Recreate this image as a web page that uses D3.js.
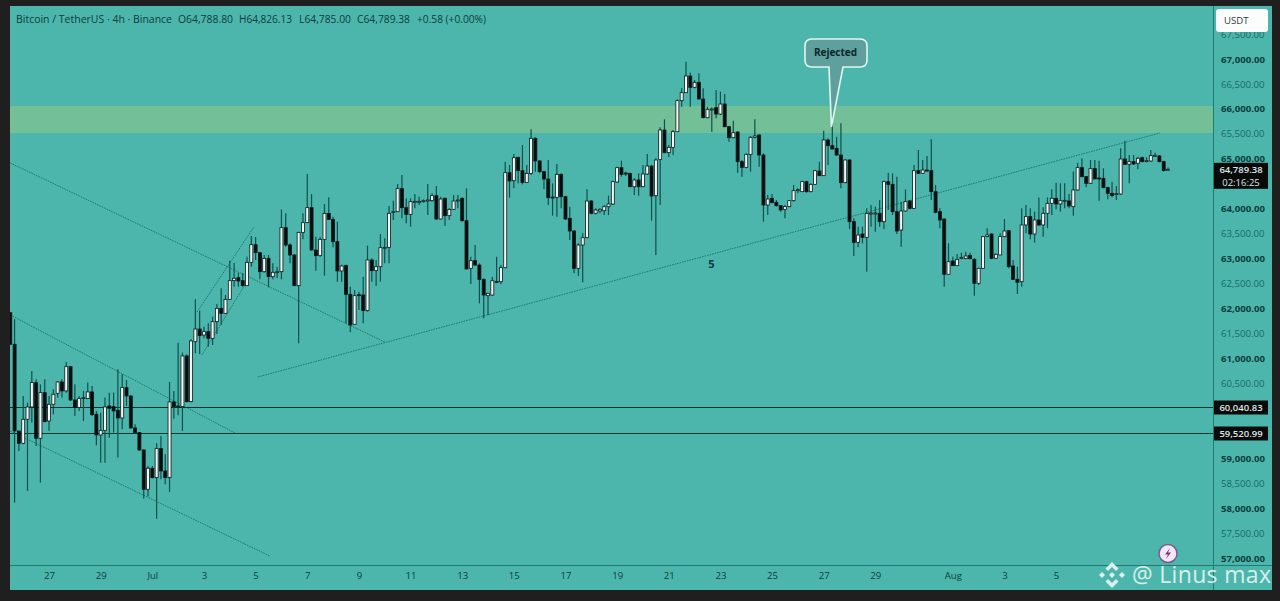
<!DOCTYPE html>
<html>
<head>
<meta charset="utf-8">
<script src="https://cdn.jsdelivr.net/npm/d3@7"></script>
<style>
  html, body { margin: 0; padding: 0; background: #201f1f; overflow: hidden; }
  svg { display: block; }
  text { font-family: "Open Sans", "Noto Sans", sans-serif; }
</style>
</head>
<body>
<script>
// DEFINE VARIABLES
var opens = [
  61917,61283,59546,59299,59780,60027,60515,59399,60314,59746,
  60080,60301,60528,60348,60835,60167,60014,60194,60194,60328,
  59880,59466,59559,60047,60034,59960,59806,60414,60247,59606,
  59513,59165,58377,58798,58611,59192,58744,58611,60127,60047,
  60034,61049,60134,61335,61589,61469,61536,61402,61736,62003,
  61903,62184,62558,62618,62558,62458,62925,63279,63119,62738,
  63005,62638,62725,62738,63620,63273,63072,62458,63526,63720,
  64021,63172,63059,63386,63907,63787,63339,62752,62865,62284,
  61683,62277,62271,61957,62972,62758,62838,63212,63226,63927,
  63941,64402,64021,63887,64141,64141,64154,64161,64161,64261,
  63794,64208,63860,63987,64161,64208,63760,62805,62958,62871,
  62584,62257,62270,62544,62537,62818,64722,64561,65029,64762,
  64528,64708,65410,64956,64742,64595,64234,64227,64688,64241,
  63807,63553,62805,63272,63419,64154,63907,63954,63960,64040,
  64094,64535,64822,64715,64708,64441,64575,64441,64695,64855,
  64261,64989,65577,65123,65229,65543,66165,66325,66659,66432,
  66532,66198,65824,65984,66024,65897,66098,65644,65423,65537,
  64942,64829,65089,65430,65477,65076,64074,64208,64127,64061,
  63987,64041,64161,64368,64341,64542,64341,64488,64755,64662,
  65377,65263,65210,65076,64522,64976,63740,63326,63493,63426,
  63900,63900,63907,63740,64542,64488,63940,63573,63954,64154,
  64007,64762,64709,64775,64762,64341,63940,63793,62685,62952,
  62858,63012,62999,63065,62986,62505,62805,63440,63493,63006,
  63073,63440,63560,62852,62585,62538,63674,63841,63493,63774,
  63674,63908,64108,64208,64095,64155,64155,64041,64375,64823,
  64642,64509,64803,64616,64609,64422,64308,64288,64295,64996,
  64890,64943,64910,65023,64950,64956,65057,65057,64943,64788.8
];
var closes = [
  61283,59546,59299,59780,60027,60515,59399,60314,59733,60080,
  60281,60528,60348,60835,60167,60014,60194,60214,60328,59873,
  59466,59559,60027,60000,59947,59806,60414,60247,59606,59513,
  59165,58377,58798,58611,59192,58744,58611,60127,60034,60034,
  61049,60134,61350,61589,61456,61536,61402,61736,62003,61903,
  62184,62558,62605,62551,62458,62925,63279,63119,62738,63005,
  62638,62725,62738,63620,63273,63072,62458,63526,63720,64021,
  63172,63059,63386,63907,63787,63339,62752,62852,62284,61669,
  62257,62264,61957,62972,62758,62838,63219,63226,63907,63941,
  64402,64021,63887,64141,64148,64148,64161,64174,64261,63794,
  64194,63860,63987,64154,64174,63760,62792,62958,62871,62584,
  62270,62304,62557,62531,62818,64722,64555,65022,64762,64528,
  64708,65410,64956,64742,64595,64221,64221,64688,64241,63793,
  63553,62805,63272,63419,64154,63907,63974,63987,64040,64094,
  64541,64822,64688,64702,64441,64575,64441,64695,64855,64254,
  64976,65577,65123,65229,65543,66165,66325,66659,66432,66532,
  66198,65824,65991,65998,65897,66098,65644,65423,65523,64942,
  64829,65089,65430,65457,65076,64074,64194,64121,64061,63974,
  64041,64161,64361,64381,64542,64341,64488,64762,64662,65377,
  65263,65196,65076,64522,64976,63740,63326,63473,63426,63907,
  63914,63914,63740,64542,64488,63940,63553,63954,64141,64007,
  64762,64709,64775,64762,64341,63927,63773,62685,62938,62858,
  62985,63025,63052,62999,62505,62805,63440,63473,63006,63086,
  63440,63554,62839,62585,62525,63674,63841,63493,63774,63674,
  63908,64108,64208,64095,64161,64168,64055,64375,64823,64642,
  64509,64803,64596,64602,64422,64308,64262,64302,64996,64890,
  64943,64896,65010,64943,64963,65063,65070,64943,64763,64789.38
];
var highs = [
  61917,61784,59546,60247,60114,60748,60581,60481,60581,60247,
  60381,60548,60581,60929,60835,60481,60247,60348,60515,60448,
  59947,59913,60214,60314,60314,60782,60682,60568,60261,59680,
  59526,59179,58845,58845,59299,59446,59078,60528,60348,61316,
  61116,61082,61383,62184,61957,61636,61703,61836,62090,62404,
  62271,62959,62919,62718,62705,63039,63453,63426,63119,63072,
  63072,62905,62838,63987,63907,63306,63086,63540,63907,64695,
  64295,63440,63426,64094,64228,63840,63740,62878,62878,62438,
  62371,62337,62638,63259,63005,62972,63493,63406,64054,64161,
  64495,64675,64208,64208,64295,64241,64188,64495,64308,64455,
  64241,64228,64007,64275,64275,64228,64408,63038,63272,62905,
  62604,62317,62638,63038,62871,64942,64875,65096,65042,65276,
  64875,65590,65430,64976,64762,64976,64508,64895,64708,64254,
  64040,63573,63306,63506,64388,64174,64007,64007,64074,64261,
  64561,64842,64962,64742,64722,64608,64708,64875,65096,64875,
  65009,65630,65791,65276,65577,66191,66412,66946,66726,66579,
  66712,66412,66044,66031,66378,66345,66298,65657,65764,65550,
  64976,65109,65457,65791,65490,65109,64274,64294,64174,64074,
  64074,64174,64475,64408,64562,64562,64508,64775,64942,65564,
  65410,65744,65443,65711,64989,64989,63807,63640,63640,64007,
  64074,64041,64174,64562,64722,64709,64642,64141,64388,64174,
  64876,65176,64976,65056,65390,64475,64007,63807,63306,63039,
  63092,63119,63139,63119,63006,62819,63453,63607,63507,63106,
  63507,63794,63574,62972,62839,64008,64075,64008,63941,64222,
  64028,64228,64389,64522,64509,64509,64295,64743,64923,65010,
  64656,64976,64976,64963,64809,64442,64542,64455,65210,65364,
  65077,65077,65043,65043,65030,65177,65123,65077,64963,64826.13
];
var lows = [
  61283,58110,59145,59279,58344,59713,59245,58511,59713,59546,
  59880,60214,60214,60314,60147,59847,59947,59746,60181,59847,
  59259,58911,58911,59412,59513,59012,59579,60047,59593,59499,
  59145,58190,58230,58591,57789,58577,58477,58323,59793,59860,
  59546,60114,60114,61102,61088,61402,61235,61269,61489,61669,
  61890,62170,62438,62438,62438,62451,62838,62972,62585,62718,
  62424,62585,62605,62585,63239,62905,62451,61302,63386,63720,
  63159,62758,63039,62658,63774,63226,62538,62538,61703,61522,
  61669,61970,61703,61937,62538,62451,62538,62905,62905,63774,
  63941,63807,63707,63640,64007,64074,64121,63874,64141,63774,
  63787,63653,63774,63974,64007,63740,62785,62491,62851,62103,
  61803,61869,62257,62504,62484,62805,64221,64408,64508,64488,
  64521,64675,64742,64708,64388,64074,63860,63840,64007,63773,
  63372,62704,62651,62524,63406,63887,63887,63907,63873,63873,
  64074,64521,64642,64655,64428,64274,64261,64428,64675,63760,
  63072,64074,65109,65029,65076,65543,66044,66325,66044,66412,
  66191,65811,65811,65543,65811,65877,65630,65343,65410,64722,
  64642,64809,64742,65410,64842,63740,63874,64107,64041,63940,
  63807,64027,64141,64308,64341,64321,64328,64475,64655,64655,
  64876,65190,65056,64408,64508,63593,63052,63226,63306,62738,
  63640,63540,63640,63593,63974,63874,63493,63239,63940,63987,
  63994,64695,64695,64742,64174,63907,63606,62437,62671,62852,
  62852,62985,62985,62985,62258,62471,62792,63440,62986,62992,
  63073,63427,62805,62572,62291,62438,63507,63387,63320,63654,
  63440,63607,63874,63988,63941,64008,64008,63861,64362,64629,
  64429,64495,64589,64161,64409,64188,64228,64175,64282,64876,
  64509,64876,64789,64930,64930,64943,65043,64930,64743,64785
];

var xTickIndex = [9, 21, 33, 45, 57, 69, 81, 93, 105, 117, 129, 141, 153, 165, 177, 189, 201, 219, 231, 243];
var xTickLabels = ['27', '29', 'Jul', '3', '5', '7', '9', '11', '13', '15', '17', '19', '21', '23', '25', '27', '29', 'Aug', '3', '5'];
var yTicks = [57000, 57500, 58000, 58500, 59000, 60500, 61000, 61500, 62000, 62500, 63000, 63500, 64000, 64500, 65000, 65500, 66000, 66500, 67000, 67500];

var zonePrices = [66060, 65517];
var levelPrices = [60040.83, 59520.99];
var lastPrice = 64789.38;

// trend lines as [index, price, index, price]
var trendLines = [
  [0, 64916, 87, 61329],
  [0, 61870, 52.2, 59505],
  [0, 59545, 60.3, 57040],
  [57.5, 60627, 267.1, 65517],
  [43.4, 61930, 56.6, 63633],
  [44.5, 61068, 54.5, 62471]
];
var calloutTip = [190.8, 65640];
var waveLabel = [162.9, 63000];

var width = 1280;
var height = 601;
var paneLeft = 10;
var paneTop = 6;
var paneRight = 1272;
var paneBottom = 590;
var axisX = 1213;
var axisY = 565;
var tealBg = '#4db6ac';
var inkDark = '#0a3d3d';
var wickColor = '#0f4f4c';

// DEFINE FUNCTIONS
var fmt = d3.format(',.2f');

var x = d3.scaleLinear().domain([0, 269]).range([10.3, 1168]);
var y = d3.scaleLinear().domain([57000, 67000]).range([558, 59]);

var candles = d3.range(opens.length).map(function(i) {
  return { i: i, o: opens[i], h: highs[i], l: lows[i], c: closes[i] };
});

function priceTag(svg, top, h, lines) {
  svg.append('rect')
    .attr('x', axisX + 1)
    .attr('y', top)
    .attr('width', 54)
    .attr('height', h)
    .attr('fill', '#0a0a0a');
  lines.forEach(function(t, k) {
    svg.append('text')
      .attr('x', axisX + 28)
      .attr('y', top + 10.5 + k * 13)
      .attr('text-anchor', 'middle')
      .attr('font-size', 9.5)
      .attr('font-weight', k === 0 ? 600 : 400)
      .attr('fill', '#dfe8e6')
      .text(t);
  });
}

document.addEventListener('DOMContentLoaded', function() {

  var svg = d3.select('body')
    .append('svg')
    .attr('width', width)
    .attr('height', height);

  svg.append('clipPath').attr('id', 'plot')
    .append('rect')
    .attr('x', paneLeft)
    .attr('y', paneTop)
    .attr('width', axisX - paneLeft)
    .attr('height', axisY - paneTop);

  // background
  svg.append('rect')
    .attr('x', paneLeft)
    .attr('y', paneTop)
    .attr('width', paneRight - paneLeft)
    .attr('height', paneBottom - paneTop)
    .attr('fill', tealBg);

  var plot = svg.append('g').attr('clip-path', 'url(#plot)');

  // green zone
  plot.append('rect')
    .attr('x', paneLeft)
    .attr('y', y(zonePrices[0]))
    .attr('width', axisX - paneLeft)
    .attr('height', y(zonePrices[1]) - y(zonePrices[0]))
    .attr('fill', '#72bf98');

  // dotted trend lines
  plot.selectAll('.trend')
    .data(trendLines)
    .enter()
    .append('line')
    .attr('class', 'trend')
    .attr('x1', function(d) { return x(d[0]); })
    .attr('y1', function(d) { return y(d[1]); })
    .attr('x2', function(d) { return x(d[2]); })
    .attr('y2', function(d) { return y(d[3]); })
    .attr('stroke', '#1c6f6a')
    .attr('stroke-width', 0.9)
    .attr('stroke-dasharray', '1.6 1');

  // horizontal levels
  plot.selectAll('.level')
    .data(levelPrices)
    .enter()
    .append('line')
    .attr('class', 'level')
    .attr('x1', paneLeft)
    .attr('x2', axisX)
    .attr('y1', function(d) { return Math.ceil(y(d)) + 0.5; })
    .attr('y2', function(d) { return Math.ceil(y(d)) + 0.5; })
    .attr('stroke', '#06302e')
    .attr('stroke-width', 1);

  // wicks
  plot.selectAll('.wick')
    .data(candles)
    .enter()
    .append('line')
    .attr('class', 'wick')
    .attr('x1', function(d) { return x(d.i); })
    .attr('x2', function(d) { return x(d.i); })
    .attr('y1', function(d) { return y(d.h); })
    .attr('y2', function(d) { return y(d.l); })
    .attr('stroke', wickColor)
    .attr('stroke-width', 1.2);

  // bodies
  plot.selectAll('.body')
    .data(candles)
    .enter()
    .append('rect')
    .attr('class', 'body')
    .attr('x', function(d) { return x(d.i) - 1.5; })
    .attr('y', function(d) { return y(Math.max(d.o, d.c)); })
    .attr('width', 3)
    .attr('height', function(d) { return Math.max(1, Math.abs(y(d.o) - y(d.c))); })
    .attr('fill', function(d) { return d.c >= d.o ? '#f4f6f5' : '#0b0b0b'; })
    .attr('stroke', '#0b1a1a')
    .attr('stroke-width', 0.8);

  // axis frame
  svg.append('line')
    .attr('x1', axisX + 0.5).attr('x2', axisX + 0.5)
    .attr('y1', paneTop).attr('y2', paneBottom)
    .attr('stroke', '#1f7a74').attr('stroke-width', 1);
  svg.append('line')
    .attr('x1', paneLeft).attr('x2', paneRight)
    .attr('y1', axisY + 0.5).attr('y2', axisY + 0.5)
    .attr('stroke', '#1f7a74').attr('stroke-width', 1);

  // price axis
  var yAxis = d3.axisRight(y)
    .tickValues(yTicks)
    .tickSize(0)
    .tickPadding(8)
    .tickFormat(fmt);
  var yG = svg.append('g')
    .attr('transform', 'translate(' + axisX + ',0)')
    .call(yAxis);
  yG.select('.domain').remove();
  yG.selectAll('text')
    .attr('font-size', 9.6)
    .attr('font-family', '"Open Sans", sans-serif')
    .attr('font-weight', function(d) { return d % 1000 === 0 ? 700 : 400; })
    .attr('fill', function(d) { return d % 1000 === 0 ? inkDark : '#146a66'; });

  // time axis
  var xAxis = d3.axisBottom(x)
    .tickValues(xTickIndex)
    .tickSize(0)
    .tickPadding(7)
    .tickFormat(function(d, i) { return xTickLabels[i]; });
  var xG = svg.append('g')
    .attr('transform', 'translate(0,' + axisY + ')')
    .call(xAxis);
  xG.select('.domain').remove();
  xG.selectAll('text')
    .attr('font-size', 9.6)
    .attr('font-family', '"Open Sans", sans-serif')
    .attr('fill', inkDark);

  // price tags
  priceTag(svg, y(lastPrice) - 6.5, 26, [fmt(lastPrice), '02:16:25']);
  levelPrices.forEach(function(p) {
    priceTag(svg, Math.ceil(y(p)) - 6.5, 14, [fmt(p)]);
  });

  // USDT box
  svg.append('rect')
    .attr('x', 1216).attr('y', 9)
    .attr('width', 52).attr('height', 23)
    .attr('rx', 3)
    .attr('fill', '#fbfdfc');
  svg.append('text')
    .attr('x', 1224).attr('y', 24)
    .attr('font-size', 9.6)
    .attr('fill', '#2f3a3a')
    .text('USDT');

  // header legend
  var header = [
    ['Bitcoin / TetherUS \u00b7 4h \u00b7 Binance', 16, 156],
    ['O64,788.80', 178, 55],
    ['H64,826.13', 239, 53],
    ['L64,785.00', 299, 52],
    ['C64,789.38', 357, 53],
    ['+0.58 (+0.00%)', 417, 69]
  ];
  svg.selectAll('.hdr')
    .data(header)
    .enter()
    .append('text')
    .attr('class', 'hdr')
    .attr('x', function(d) { return d[1]; })
    .attr('y', 23)
    .attr('textLength', function(d) { return d[2]; })
    .attr('lengthAdjust', 'spacingAndGlyphs')
    .attr('font-size', 10)
    .attr('fill', inkDark)
    .text(function(d) { return d[0]; });

  // Rejected callout
  var tipX = x(calloutTip[0]);
  var tipY = y(calloutTip[1]);
  var bx = 805, by = 39, bw = 62, bh = 28, r = 7;
  var callout = 'M' + (bx + r) + ',' + by +
    'H' + (bx + bw - r) + 'Q' + (bx + bw) + ',' + by + ' ' + (bx + bw) + ',' + (by + r) +
    'V' + (by + bh - r) + 'Q' + (bx + bw) + ',' + (by + bh) + ' ' + (bx + bw - r) + ',' + (by + bh) +
    'H843L' + tipX + ',' + tipY + 'L829,' + (by + bh) +
    'H' + (bx + r) + 'Q' + bx + ',' + (by + bh) + ' ' + bx + ',' + (by + bh - r) +
    'V' + (by + r) + 'Q' + bx + ',' + by + ' ' + (bx + r) + ',' + by + 'Z';
  svg.append('path')
    .attr('d', callout)
    .attr('fill', '#5f9f9d')
    .attr('stroke', '#def7f1')
    .attr('stroke-width', 1.6);
  svg.append('text')
    .attr('x', bx + bw / 2 - 0.5)
    .attr('y', by + 16.5)
    .attr('text-anchor', 'middle')
    .attr('font-size', 10)
    .attr('font-weight', 700)
    .attr('fill', '#08282a')
    .text('Rejected');

  // wave count
  svg.append('text')
    .attr('x', x(waveLabel[0]))
    .attr('y', y(waveLabel[1]) + 9)
    .attr('text-anchor', 'middle')
    .attr('font-size', 11)
    .attr('font-weight', 700)
    .attr('fill', inkDark)
    .text('5');

  // purple badge
  svg.append('circle')
    .attr('cx', 1168).attr('cy', 553.5).attr('r', 9)
    .attr('fill', '#f4e6f6')
    .attr('stroke', '#7a5c92')
    .attr('stroke-width', 1.5);
  svg.append('path')
    .attr('d', 'M1170,548L1165,554.5H1168L1166,559L1171,552.5H1168Z')
    .attr('fill', '#6e3d82');

  // watermark
  var mark = svg.append('g')
    .attr('transform', 'translate(1112,575)')
    .attr('fill', '#d9efec');
  mark.append('path').attr('d', 'M0,-13L6.5,-6.5L4,-4L0,-8L-4,-4L-6.5,-6.5Z');
  mark.append('path').attr('d', 'M0,13L6.5,6.5L4,4L0,8L-4,4L-6.5,6.5Z');
  mark.append('path').attr('d', 'M-13,0L-10,-3L-7,0L-10,3Z');
  mark.append('path').attr('d', 'M13,0L10,-3L7,0L10,3Z');
  mark.append('path').attr('d', 'M0,-3L3,0L0,3L-3,0Z');
  svg.append('text')
    .attr('x', 1132)
    .attr('y', 583)
    .attr('textLength', 139)
    .attr('lengthAdjust', 'spacing')
    .attr('font-size', 23)
    .attr('font-family', 'Inter, "Open Sans", sans-serif')
    .attr('fill', '#d9efec')
    .text('@ Linus max');

});
</script>
</body>
</html>
